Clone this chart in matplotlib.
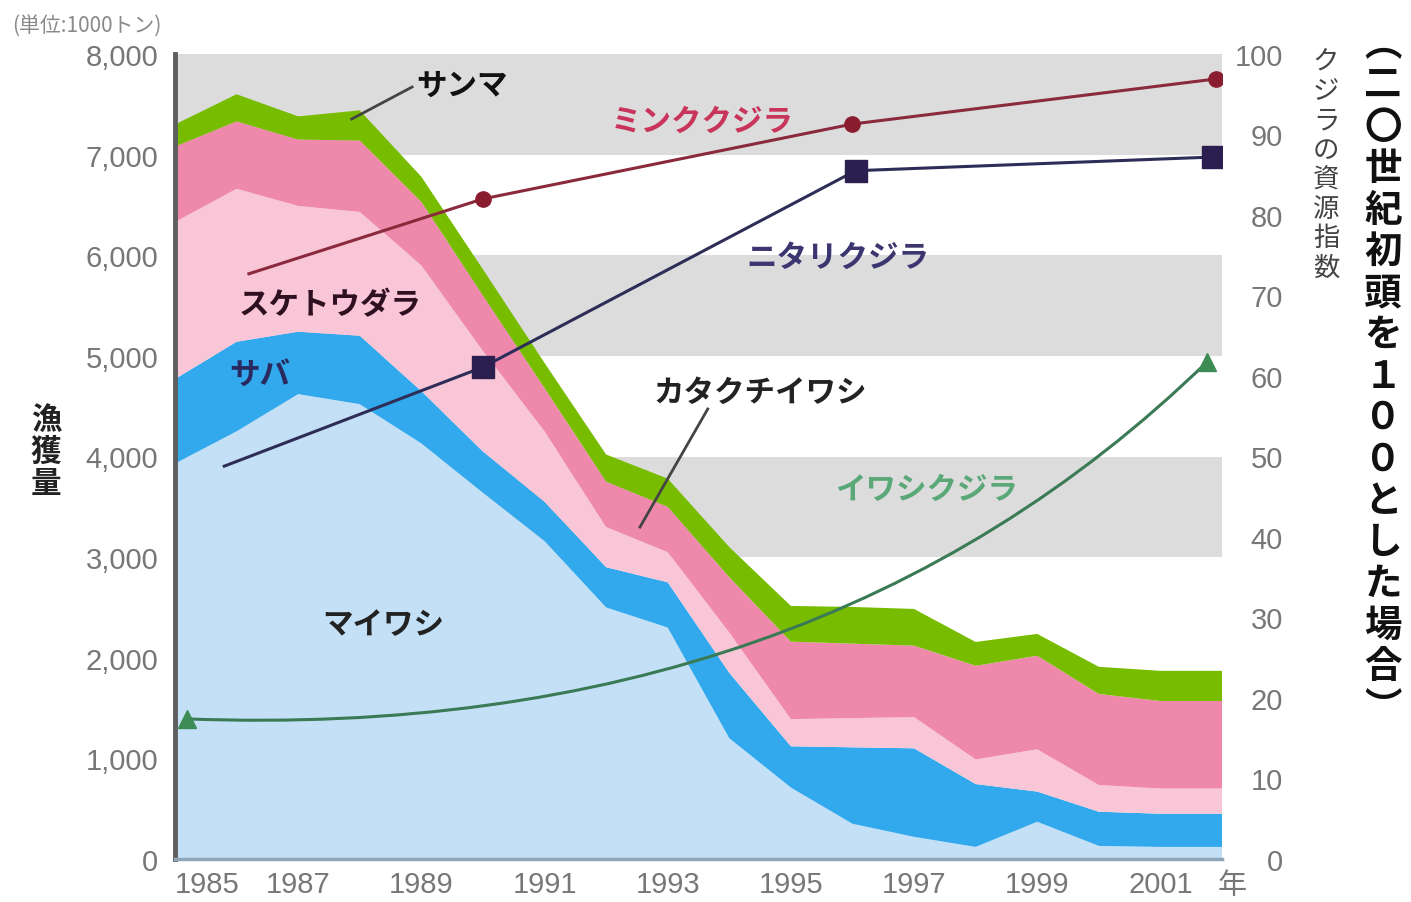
import matplotlib.pyplot as plt
from matplotlib.path import Path
from matplotlib.patches import PathPatch
from matplotlib.ticker import FuncFormatter

plt.rcParams['font.family'] = ['Noto Sans CJK JP', 'DejaVu Sans']

# 漁獲量 (1000トン)
years = list(range(1985, 2003))
maiwashi = [3930, 4250, 4620, 4520, 4130, 3640, 3160, 2500, 2300, 1200,
            710, 350, 220, 120, 370, 130, 120, 120]
saba = [840, 890, 620, 680, 520, 410, 390, 400, 450, 650,
        410, 760, 880, 625, 300, 340, 330, 330]
suketoudara = [1560, 1520, 1250, 1230, 1250, 1000, 700, 400, 300, 400,
               270, 290, 310, 245, 420, 265, 250, 250]
katakuchi = [750, 670, 660, 710, 630, 550, 430, 450, 450, 550,
             770, 740, 710, 930, 930, 905, 870, 870]
sanma = [220, 270, 230, 300, 250, 260, 250, 270, 280, 300,
         355, 365, 365, 237, 217, 270, 300, 300]
fish_names = ['マイワシ', 'サバ', 'スケトウダラ', 'カタクチイワシ', 'サンマ']
fish_colors = ['#c4e0f6', '#31a9ec', '#f9c6d7', '#ee89ab', '#78bc00']

# クジラの資源指数
minke_years = [1986.2, 1990.0, 1996.0, 2001.9]
minke = [72.7, 82.0, 91.3, 96.9]
bryde_years = [1985.8, 1990.0, 1996.05, 2001.85]
bryde = [48.8, 61.1, 85.5, 87.2]
sei_years = [1985.2, 2001.75]
sei = [17.4, 61.7]

fig = plt.figure(figsize=(14.11, 9.03), dpi=100)
ax = fig.add_axes([175 / 1411, 1 - 860 / 903, 1047 / 1411, 805 / 903])
ax.set_xlim(1985, 2002)
ax.set_ylim(0, 8000)

for lo in (3000, 5000, 7000):
    ax.axhspan(lo, lo + 1000, color='#dcdcdc', lw=0, zorder=0.5)

ax.stackplot(years, maiwashi, saba, suketoudara, katakuchi, sanma,
             colors=fish_colors, labels=fish_names, lw=0, zorder=1)

tick_font = dict(family='Liberation Sans', size=21, color='#777777')
ax.set_yticks(range(0, 8001, 1000))
ax.yaxis.set_major_formatter(FuncFormatter(lambda v, p: f'{v:,.0f}'))
ax.set_xticks(range(1985, 2002, 2))
ax.tick_params(axis='y', length=0, pad=12)
ax.tick_params(axis='x', length=0, pad=8)
for lab in ax.get_yticklabels() + ax.get_xticklabels():
    lab.set_fontproperties(tick_font['family'])
    lab.set_fontsize(tick_font['size'])
    lab.set_color(tick_font['color'])
ax.get_xticklabels()[0].set_ha('left')

for s in ('top', 'right'):
    ax.spines[s].set_visible(False)
ax.spines['left'].set_color('#5e5e5e')
ax.spines['left'].set_linewidth(3.5)
ax.spines['bottom'].set_color('#90a6b6')
ax.spines['bottom'].set_linewidth(2.5)

ax2 = ax.twinx()
ax2.set_ylim(0, 100)
ax2.set_yticks(range(0, 101, 10))
ax2.tick_params(axis='y', length=0, pad=44)
for lab in ax2.get_yticklabels():
    lab.set_fontproperties(tick_font['family'])
    lab.set_fontsize(tick_font['size'])
    lab.set_color(tick_font['color'])
    lab.set_ha('right')
for s in ax2.spines.values():
    s.set_visible(False)

# whale lines
ax2.plot(minke_years, minke, color='#8a2a3c', lw=2.2, marker='o', ms=11,
         mfc='#8a1c30', mec='#8a1c30', markevery=[1, 2, 3], zorder=3)
ax2.plot(bryde_years, bryde, color='#2d2d58', lw=2.2, marker='s', ms=16,
         mfc='#2b1f4f', mec='#2b1f4f', markevery=[1, 2, 3], zorder=3)
bend = (1995.4, 14.5)
sei_path = Path([(sei_years[0], sei[0]), bend, (sei_years[1], sei[1])],
                [Path.MOVETO, Path.CURVE3, Path.CURVE3])
ax2.add_patch(PathPatch(sei_path, fc='none', ec='#3a7a55', lw=2.2, zorder=3))
ax2.plot(sei_years, sei, ls='none', marker='^', ms=13, color='#3d8c55', zorder=3)

# labels
lab_kw = dict(fontsize=22, fontweight='bold', ha='center', va='center',
              transform=ax.transData, zorder=5)
ax2.text(1989.66, 7692, 'サンマ', color='#111111', **lab_kw)
ax2.text(1993.56, 7334, 'ミンククジラ', color='#c8345a', **lab_kw)
ax2.text(1995.76, 5983, 'ニタリクジラ', color='#3b3570', **lab_kw)
ax2.text(1987.52, 5516, 'スケトウダラ', color='#2e1020', **lab_kw)
ax2.text(1986.38, 4810, 'サバ', color='#2a2a60', **lab_kw)
ax2.text(1994.50, 4641, 'カタクチイワシ', color='#222222', **lab_kw)
ax2.text(1997.21, 3677, 'イワシクジラ', color='#5aa878', **lab_kw)
ax2.text(1988.38, 2335, 'マイワシ', color='#222222', **lab_kw)

ax2.plot([1988.85, 1987.87], [7672 / 80, 7354 / 80], color='#444444', lw=2, zorder=4)
ax2.plot([1993.65, 1992.55], [4472 / 80, 3299 / 80], color='#444444', lw=2, zorder=4)

fig.text(1232 / 1411, 1 - 886 / 903, '年', fontsize=21, color='#777777',
         ha='center', va='center')
fig.text(12 / 1411, 1 - 26 / 903, '(単位:1000トン)', fontsize=15, color='#8a8a8a',
         ha='left', va='center')

fig.text(46 / 1411, 1 - 452 / 903, '\n'.join('漁獲量'), fontsize=22,
         fontweight='bold', color='#222222', ha='center', va='center',
         linespacing=1.0)
fig.text(1326 / 1411, 1 - 165 / 903, '\n'.join('クジラの資源指数'), fontsize=19,
         color='#444444', ha='center', va='center', linespacing=1.12)
fig.text(1383 / 1411, 1 - 376 / 903, '\n'.join('︵二〇世紀初頭を１００とした場合︶'),
         fontsize=27, fontweight='bold', color='#111111', ha='center',
         va='center', linespacing=1.08)

fig.savefig('out.png', dpi=100)
